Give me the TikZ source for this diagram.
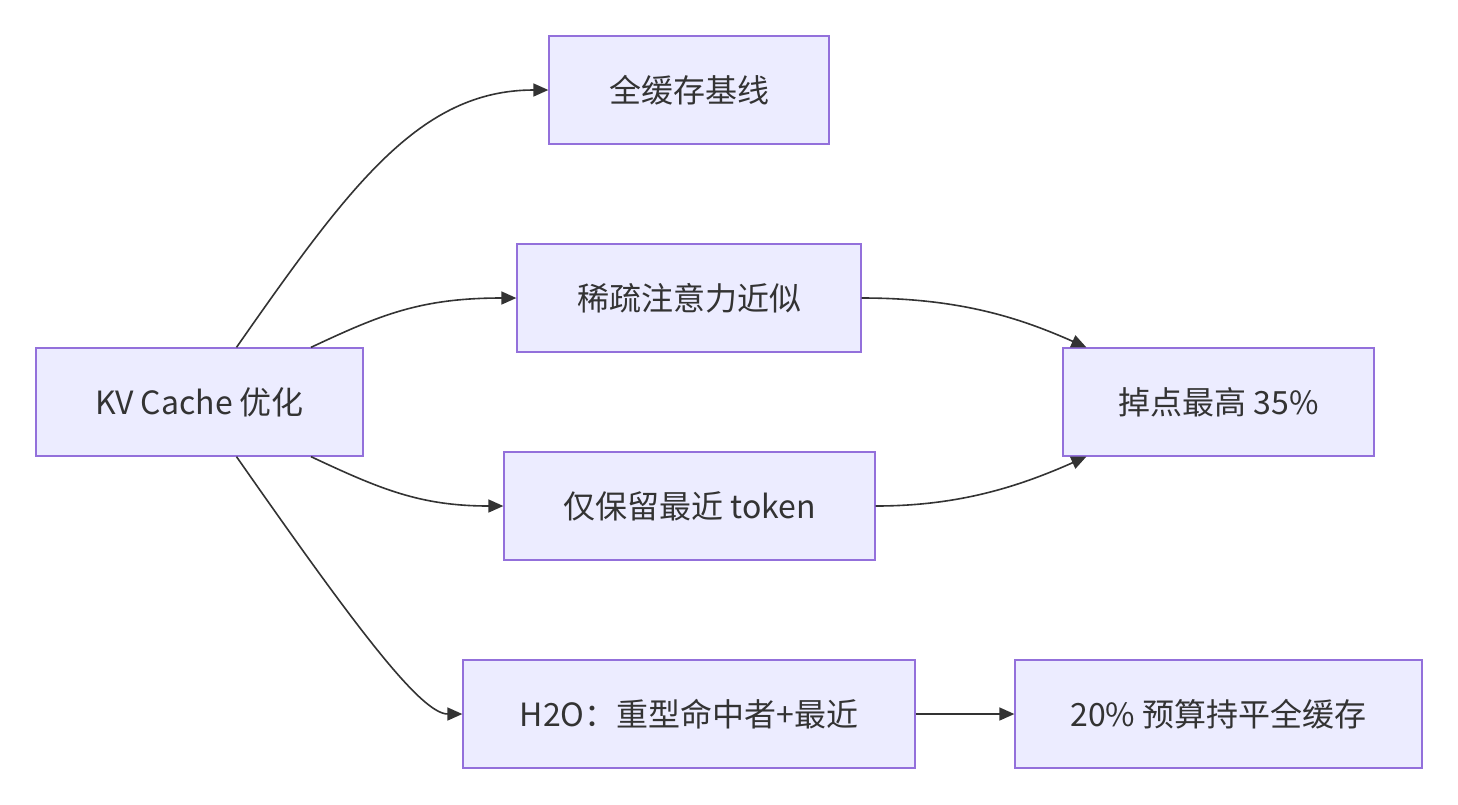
\documentclass[tikz,border=0pt]{standalone}
\usepackage{fontspec}
\setmainfont{Noto Sans CJK SC}
\usetikzlibrary{arrows.meta}
\definecolor{boxfill}{HTML}{ECECFF}
\definecolor{boxline}{HTML}{9370DB}
\definecolor{ink}{HTML}{333333}
\begin{document}
\begin{tikzpicture}[x=1pt,y=-1pt,
  box/.style={draw=boxline,fill=boxfill,line width=1.3pt,minimum height=108pt,inner sep=0pt,
    text=ink,font=\fontsize{32}{38}\selectfont},
  link/.style={draw=ink,line width=1.6pt,-{Triangle[length=15pt,width=13pt]}}]
\useasboundingbox[fill=white] (0,0) rectangle (1458,804);
\node[box,minimum width=327pt] (kv) at (199.5,402) {KV Cache 优化};
\node[box,minimum width=280pt] (full) at (689,90) {全缓存基线};
\node[box,minimum width=344pt] (sparse) at (689,298) {稀疏注意力近似};
\node[box,minimum width=371pt] (recent) at (689.5,506) {仅保留最近 token};
\node[box,minimum width=452pt] (h2o) at (689,714) {H2O：重型命中者+最近};
\node[box,minimum width=311pt] (drop) at (1218.5,402) {掉点最高 35\%};
\node[box,minimum width=407pt] (budget) at (1218.5,714) {20\% 预算持平全缓存};
\draw[link] ([xshift=37pt]kv.north) .. controls (350,185) and (420,90) .. (full.west);
\draw[link] ([xshift=111.5pt]kv.north) .. controls (380,315) and (420,298) .. (sparse.west);
\draw[link] ([xshift=111.5pt]kv.south) .. controls (380,489) and (420,506) .. (recent.west);
\draw[link] ([xshift=37pt]kv.south) .. controls (350,619) and (420,714) .. (h2o.west);
\draw[link] (sparse.east) .. controls (960,298) and (1020,318) .. ([xshift=24pt]drop.north west);
\draw[link] (recent.east) .. controls (960,506) and (1020,486) .. ([xshift=24pt]drop.south west);
\draw[link] (h2o.east) -- (budget.west);
\end{tikzpicture}
\end{document}
